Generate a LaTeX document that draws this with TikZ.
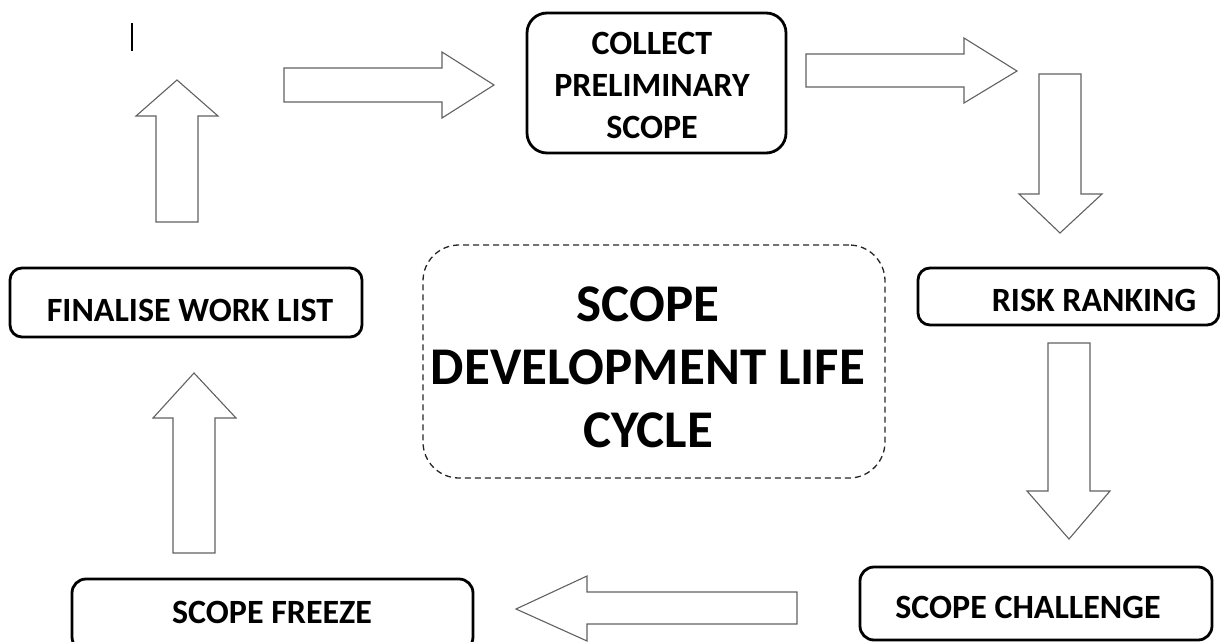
\documentclass[tikz,border=0pt]{standalone}
\usepackage{fontspec}
\setmainfont{Carlito}
\begin{document}
\begin{tikzpicture}[x=1pt,y=-1pt,
  stagebox/.style={draw=black,line width=2.8pt,rounded corners=12pt,inner sep=0pt},
  stagelabel/.style={inner sep=0pt,align=center,font=\fontsize{34}{42}\selectfont\bfseries},
  titlebox/.style={draw=black!85,line width=1.3pt,dash pattern=on 6pt off 4pt,rounded corners=36pt,inner sep=0pt},
  titlelabel/.style={inner sep=0pt,align=center,font=\fontsize{53}{63}\selectfont\bfseries},
  blockarrow/.style={draw=black!62,line width=1.1pt,fill=white,line join=miter}]
\useasboundingbox (0,0) rectangle (1220,642);
\clip (0,0) rectangle (1220,642);

% stage boxes
\node[stagebox,minimum width=259pt,minimum height=140pt,rounded corners=20pt] (collect) at (656.5,83) {};
\node[stagelabel] (collectT) at (652,85) {COLLECT\\PRELIMINARY\\SCOPE};

\node[stagebox,minimum width=301pt,minimum height=57pt] (risk) at (1068.5,296.5) {};
\node[stagelabel] (riskT) at (1094,300) {RISK RANKING};

\node[stagebox,minimum width=352pt,minimum height=73pt,rounded corners=14pt] (challenge) at (1036,603.5) {};
\node[stagelabel] (challengeT) at (1028,607) {SCOPE CHALLENGE};

\node[stagebox,minimum width=401pt,minimum height=72pt,rounded corners=14pt] (freeze) at (272.5,615) {};
\node[stagelabel] (freezeT) at (272,612) {SCOPE FREEZE};

\node[stagebox,minimum width=352pt,minimum height=69pt] (finalise) at (186,302.5) {};
\node[stagelabel] (finaliseT) at (190,310) {FINALISE WORK LIST};

% central title
\node[titlebox,minimum width=462pt,minimum height=233pt] (title) at (654,361.5) {};
\node[titlelabel] (titleT) at (648,367) {SCOPE\\DEVELOPMENT LIFE\\CYCLE};

% block arrows between the stages
\draw[blockarrow] (284,68) -- (442,68) -- (442,52) -- (494,85) -- (442,118) -- (442,102) -- (284,102) -- cycle;
\draw[blockarrow] (806,54) -- (964,54) -- (964,38) -- (1017,71) -- (964,103) -- (964,87) -- (806,87) -- cycle;
\draw[blockarrow] (1039,74) -- (1081,74) -- (1081,194) -- (1102,194) -- (1060,233) -- (1019,194) -- (1039,194) -- cycle;
\draw[blockarrow] (1048,343) -- (1090,343) -- (1090,491) -- (1110,491) -- (1069,539) -- (1027,491) -- (1048,491) -- cycle;
\draw[blockarrow] (797,592) -- (587,592) -- (587,576) -- (516,609) -- (587,641) -- (587,624) -- (797,624) -- cycle;
\draw[blockarrow] (173,553) -- (173,418) -- (153,418) -- (194,373) -- (236,418) -- (215,418) -- (215,553) -- cycle;
\draw[blockarrow] (156,222) -- (156,116) -- (136,116) -- (177,80) -- (218,116) -- (198,116) -- (198,222) -- cycle;

% small stray mark, top left
\coordinate (markA) at (132,23);
\coordinate (markB) at (132,51);
\draw[black,line width=1.3pt] (markA) -- (markB);
\end{tikzpicture}
\end{document}
